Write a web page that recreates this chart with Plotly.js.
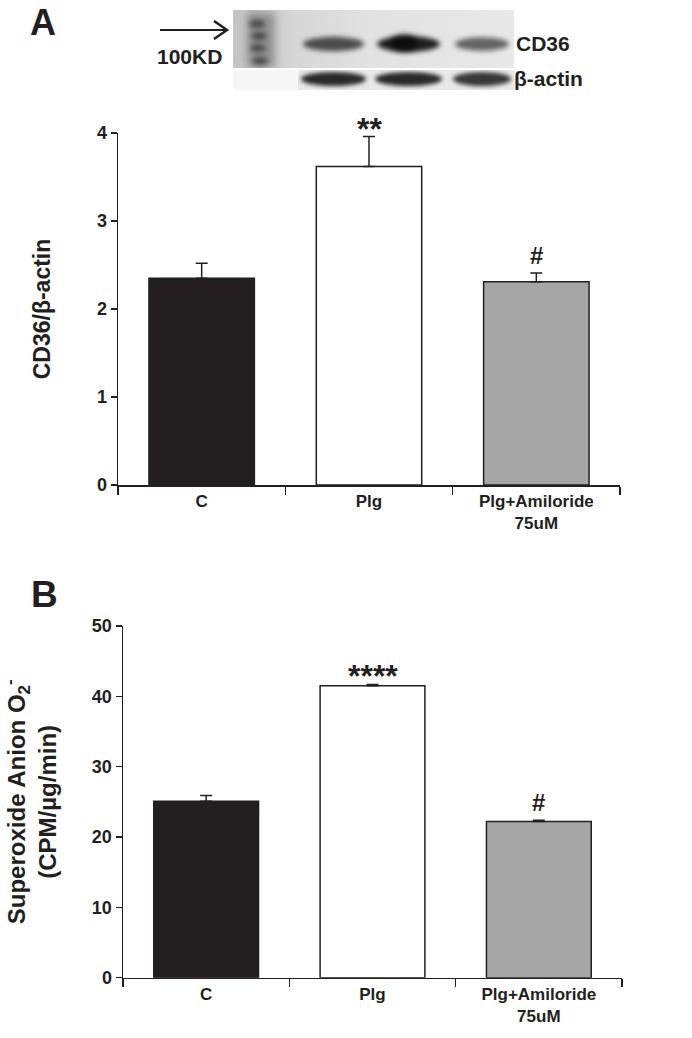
<!DOCTYPE html>
<html>
<head>
<meta charset="utf-8">
<script src="https://cdn.plot.ly/plotly-3.0.1.min.js"></script>
<style>html,body{margin:0;padding:0;background:#fff;}#chart{width:692px;height:1038px;}</style>
</head>
<body>
<div id="chart"></div>
<script>
// ---- data ----
const categories = ['C', 'Plg', 'Plg+Amiloride<br>75uM'];
const cd36Means = [2.35, 3.62, 2.31];
const cd36Err = [0.17, 0.34, 0.10];
const superoxideMeans = [25.1, 41.5, 22.2];
const superoxideErr = [0.8, 0.2, 0.2];
const cd36Marks = ['', '**', '#'];
const superoxideMarks = ['', '****', '#'];
const cd36BandStrength = [0.72, 0.95, 0.62];
const actinBandStrength = [0.92, 0.92, 0.85];

// ---- styles ----
const barColors = ['#231f20', '#ffffff', '#a6a6a6'];
const ink = '#231f20';
const FONT = 'Liberation Sans, Arial, sans-serif';
const W = 692, H = 1038;

// ---- western blot decoration (drawn on a canvas) ----
function makeBlot() {
  const cw = 281, ch = 80;
  const c = document.createElement('canvas');
  c.width = cw; c.height = ch;
  const g = c.getContext('2d');
  g.fillStyle = '#ffffff'; g.fillRect(0, 0, cw, ch);
  // top membrane
  const grd = g.createLinearGradient(0, 0, cw, 0);
  grd.addColorStop(0, '#c4c4c4'); grd.addColorStop(0.22, '#d6d6d6'); grd.addColorStop(0.5, '#e2e2e2'); grd.addColorStop(1, '#e8e8e8');
  g.fillStyle = grd; g.fillRect(0, 0, cw, 58);
  // bottom membrane
  g.fillStyle = '#e8e8e8'; g.fillRect(65, 60, cw - 65, 20);
  // ladder lane
  g.filter = 'blur(4px)';
  g.fillStyle = 'rgba(70,70,70,0.45)'; g.fillRect(14, 2, 28, 56);
  g.filter = 'blur(2.5px)';
  [[24, 14], [26, 26], [25, 38], [27, 51]].forEach(p => {
    g.fillStyle = 'rgba(30,30,30,0.6)';
    g.beginPath(); g.ellipse(p[0], p[1], 8, 4, 0, 0, 2 * Math.PI); g.fill();
  });
  const lanes = [[70, 131], [144, 207], [222, 276]];
  // CD36 bands
  lanes.forEach((l, i) => {
    const s = cd36BandStrength[i];
    g.filter = 'blur(2.5px)';
    g.fillStyle = 'rgba(20,20,20,' + s + ')';
    g.beginPath(); g.ellipse((l[0] + l[1]) / 2, 34, (l[1] - l[0]) / 2, 5 + 3 * s, 0, 0, 2 * Math.PI); g.fill();
  });
  g.filter = 'blur(3px)';
  g.fillStyle = 'rgba(10,10,10,0.9)';
  g.beginPath(); g.ellipse(171, 33, 13, 8, 0, 0, 2 * Math.PI); g.fill();
  // actin bands
  lanes.forEach((l, i) => {
    const s = actinBandStrength[i];
    g.filter = 'blur(2px)';
    g.fillStyle = 'rgba(25,25,25,' + s + ')';
    g.beginPath(); g.ellipse((l[0] + l[1]) / 2, 69, (l[1] - l[0]) / 2 + 2, 7, 0, 0, 2 * Math.PI); g.fill();
  });
  g.filter = 'none';
  g.fillStyle = '#ffffff'; g.fillRect(0, 58, cw, 2);
  g.fillStyle = '#f6f6f6'; g.fillRect(0, 60, 64, 20);
  return c.toDataURL('image/png');
}

function px(x) { return x / W; }
function py(y) { return 1 - y / H; }

const traces = [
  {
    type: 'bar', x: categories, y: cd36Means, xaxis: 'x', yaxis: 'y',
    width: 0.63,
    marker: { color: barColors, line: { color: ink, width: 1.5 } },
    error_y: { type: 'data', array: cd36Err, arrayminus: [0, 0, 0], symmetric: false, color: ink, thickness: 1.5, width: 6 },
    hoverinfo: 'x+y', showlegend: false
  },
  {
    type: 'bar', x: categories, y: superoxideMeans, xaxis: 'x2', yaxis: 'y2',
    width: 0.63,
    marker: { color: barColors, line: { color: ink, width: 1.5 } },
    error_y: { type: 'data', array: superoxideErr, arrayminus: [0, 0, 0], symmetric: false, color: ink, thickness: 1.5, width: 6 },
    hoverinfo: 'x+y', showlegend: false
  }
];

const tickFont = { family: FONT, size: 18, color: ink, weight: 'bold' };
const xTickFont = { family: FONT, size: 17, color: ink, weight: 'bold' };
const axisCommon = {
  showline: true, linecolor: ink, linewidth: 1.5, ticks: 'outside', tickcolor: ink,
  tickwidth: 1.5, showgrid: false, zeroline: false, tickfont: tickFont, fixedrange: true
};

function markFont(m) {
  return { family: FONT, size: m === '#' ? 24 : 32, color: ink, weight: 'bold' };
}
function markShift(m) { return m === '#' ? 2 : -12; }

const annotations = [];
categories.forEach((c, i) => {
  if (cd36Marks[i]) annotations.push({
    xref: 'x', yref: 'y', x: c, y: cd36Means[i] + cd36Err[i], text: cd36Marks[i],
    showarrow: false, yanchor: 'bottom', yshift: markShift(cd36Marks[i]), font: markFont(cd36Marks[i])
  });
  if (superoxideMarks[i]) annotations.push({
    xref: 'x2', yref: 'y2', x: c, y: superoxideMeans[i] + superoxideErr[i], text: superoxideMarks[i],
    showarrow: false, yanchor: 'bottom', yshift: markShift(superoxideMarks[i]), font: markFont(superoxideMarks[i])
  });
});

// panel letters and blot labels
annotations.push(
  { xref: 'paper', yref: 'paper', x: px(28), y: 1, text: 'A', showarrow: false, xanchor: 'left', yanchor: 'top',
    font: { family: FONT, size: 36, color: ink, weight: 'bold' } },
  { xref: 'paper', yref: 'paper', x: px(29), y: py(594), text: 'B', showarrow: false, xanchor: 'left', yanchor: 'middle',
    font: { family: FONT, size: 37, color: ink, weight: 'bold' } },
  { xref: 'paper', yref: 'paper', x: px(224), y: py(56), text: '100KD', showarrow: false, xanchor: 'right', yanchor: 'middle',
    font: { family: FONT, size: 21, color: ink, weight: 'bold' } },
  { xref: 'paper', yref: 'paper', x: px(514), y: py(43), text: 'CD36', showarrow: false, xanchor: 'left', yanchor: 'middle',
    font: { family: FONT, size: 21, color: ink, weight: 'bold' } },
  { xref: 'paper', yref: 'paper', x: px(512), y: py(78), text: 'β-actin', showarrow: false, xanchor: 'left', yanchor: 'middle',
    font: { family: FONT, size: 21, color: ink, weight: 'bold' } }
);

const shapes = [
  { type: 'line', xref: 'paper', yref: 'paper', x0: px(160), y0: py(30), x1: px(226), y1: py(30), line: { color: ink, width: 2 } },
  { type: 'path', xref: 'paper', yref: 'paper',
    path: 'M ' + px(214) + ' ' + py(21) + ' L ' + px(227) + ' ' + py(30) + ' L ' + px(214) + ' ' + py(39),
    line: { color: ink, width: 2.5 } }
];

const layout = {
  width: W, height: H,
  margin: { l: 0, r: 0, t: 0, b: 0 },
  paper_bgcolor: '#ffffff', plot_bgcolor: '#ffffff',
  font: { family: FONT, color: ink },
  bargap: 0,
  xaxis: Object.assign({}, axisCommon, {
    domain: [px(118), px(620)], anchor: 'y', type: 'category', range: [-0.5, 2.5],
    tickson: 'boundaries', ticklen: 8, tickfont: xTickFont
  }),
  yaxis: Object.assign({}, axisCommon, {
    domain: [py(485), py(133)], anchor: 'x', range: [0, 4], dtick: 1, ticklen: 6,
    title: { text: 'CD36/β-actin', font: { family: FONT, size: 23, color: ink, weight: 'bold' }, standoff: 40 }
  }),
  xaxis2: Object.assign({}, axisCommon, {
    domain: [px(123), px(622)], anchor: 'y2', type: 'category', range: [-0.5, 2.5],
    tickson: 'boundaries', ticklen: 8, tickfont: xTickFont
  }),
  yaxis2: Object.assign({}, axisCommon, {
    domain: [py(977.7), py(626)], anchor: 'x2', range: [0, 50], dtick: 10, ticklen: 6,
    title: { text: 'Superoxide Anion O<sub>2</sub><sup>-</sup><br>(CPM/µg/min)', font: { family: FONT, size: 24, color: ink, weight: 'bold' }, standoff: 34 }
  }),
  annotations: annotations,
  shapes: shapes,
  images: [{
    source: makeBlot(), xref: 'paper', yref: 'paper', x: px(233), y: py(10),
    sizex: 281 / W, sizey: 80 / H, xanchor: 'left', yanchor: 'top', sizing: 'stretch', layer: 'below'
  }]
};

Plotly.newPlot('chart', traces, layout, { displayModeBar: false, staticPlot: true });
</script>
</body>
</html>
